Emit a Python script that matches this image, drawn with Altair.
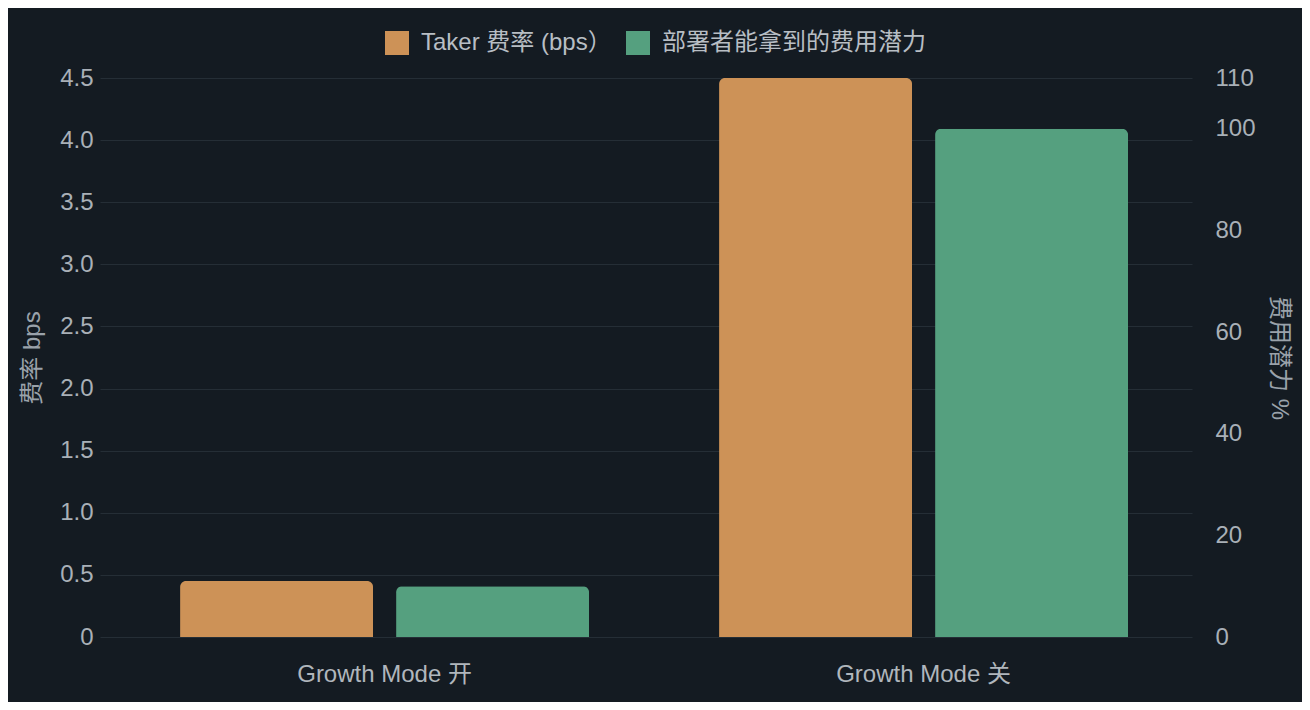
import altair as alt
import pandas as pd

categories = ["Growth Mode 开", "Growth Mode 关"]
series = ["Taker 费率 (bps）", "部署者能拿到的费用潜力"]
taker_bps = [0.45, 4.5]
potential_pct = [10, 100]
left_ticks = [0, 0.5, 1.0, 1.5, 2.0, 2.5, 3.0, 3.5, 4.0, 4.5]
right_ticks = [0, 20, 40, 60, 80, 100, 110]
colors = ["#CD9257", "#55A07F"]

rows = []
for c, v in zip(categories, taker_bps):
    rows.append({"cat": c, "series": series[0], "value": v})
for c, v in zip(categories, potential_pct):
    rows.append({"cat": c, "series": series[1], "value": v})
df = pd.DataFrame(rows)

FONT = "Liberation Sans, Noto Sans CJK SC, sans-serif"
LABEL = "#a9b0b7"
FS = 24

x_enc = alt.X("cat:N", sort=categories, title=None,
              scale=alt.Scale(paddingInner=0.2412, paddingOuter=0.1336, align=0.556),
              axis=alt.Axis(labelAngle=0, domain=False, ticks=False, labelPadding=25,
                            labelFontSize=FS, labelColor="#b0b6bc", labelFont=FONT,
                            labelLimit=0))
xoff = alt.XOffset("series:N", sort=series,
                   scale=alt.Scale(domain=series, paddingInner=0.1065, paddingOuter=0))
color = alt.Color("series:N", sort=series,
                  scale=alt.Scale(domain=series, range=colors),
                  legend=alt.Legend(title=None, orient="none", direction="horizontal",
                                    legendX=285, legendY=-47, symbolType="square",
                                    symbolSize=576, symbolStrokeWidth=0, symbolOpacity=1,
                                    labelFontSize=FS, labelColor="#b8bec4", labelFont=FONT,
                                    labelOffset=12, columnPadding=14, labelLimit=0))

base = alt.Chart(df)

left = base.transform_filter(alt.datum.series == series[0]).mark_bar(
    cornerRadiusTopLeft=6, cornerRadiusTopRight=6
).encode(
    x=x_enc, xOffset=xoff, color=color,
    y=alt.Y("value:Q", scale=alt.Scale(domain=[0, 4.5], nice=False),
            axis=alt.Axis(title="费率 bps", values=left_ticks,
                          labelExpr="datum.value == 0 ? '0' : format(datum.value, '.1f')",
                          domain=False, ticks=False, grid=True, gridColor="#252e36",
                          labelPadding=7, labelFontSize=FS, labelColor=LABEL, labelFont=FONT,
                          titleFontSize=FS, titleColor="#9aa2aa", titleFont=FONT,
                          titleFontWeight="normal", titlePadding=15))
)

right = base.transform_filter(alt.datum.series == series[1]).mark_bar(
    cornerRadiusTopLeft=6, cornerRadiusTopRight=6
).encode(
    x=x_enc, xOffset=xoff, color=color,
    y=alt.Y("value:Q", scale=alt.Scale(domain=[0, 110], nice=False),
            axis=alt.Axis(title="费用潜力 %", orient="right", values=right_ticks,
                          domain=False, ticks=False, grid=False,
                          labelPadding=23, labelFontSize=FS, labelColor=LABEL, labelFont=FONT,
                          titleFontSize=FS, titleColor="#9aa2aa", titleFont=FONT,
                          titleFontWeight="normal", titleAngle=90, titlePadding=11))
)

chart = alt.layer(left, right).resolve_scale(y="independent").properties(
    width=1092, height=559,
    autosize=alt.AutoSizeParams(type="none"),
    padding={"left": 92, "top": 70, "right": 110, "bottom": 65},
    background="#141b22",
).configure_view(stroke=None).configure_axis(gridOpacity=1)

chart.save("out.html", embed_options={"renderer": "svg", "actions": False})
